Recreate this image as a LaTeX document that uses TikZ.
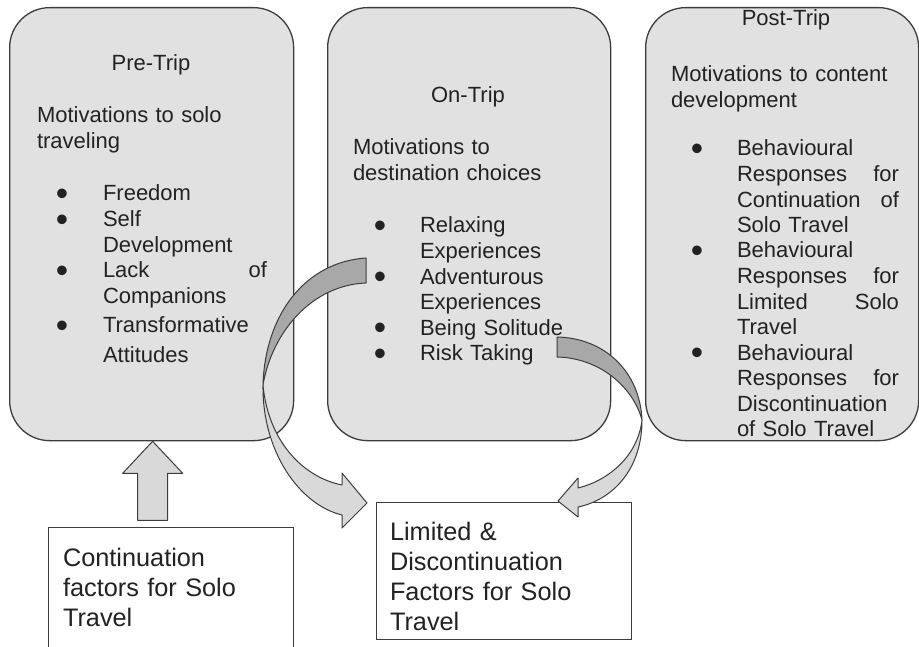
\documentclass[tikz,border=0pt]{standalone}
\usepackage{fontspec}
\setmainfont{Liberation Sans}
\definecolor{boxgray}{HTML}{E1E1E1}
\definecolor{linegray}{HTML}{3C3C3C}
\definecolor{backgray}{HTML}{A8A8A8}
\definecolor{frontgray}{HTML}{D9D9D9}
\definecolor{ink}{HTML}{222222}
% large bullet hung to the left of an item's first line
\newcommand\bul[1]{\leavevmode\llap{\smash{\raisebox{-4.5pt}{\scalebox{1.6}{\textbullet}}}\hspace{#1}}}
\begin{document}
\begin{tikzpicture}[x=1pt,y=-1pt,
  stage/.style={draw=linegray, fill=boxgray, line width=1.3pt, rounded corners=40pt,
    anchor=north west, inner sep=0pt},
  factorbox/.style={draw=linegray, fill=white, line width=1.1pt, anchor=north west, inner sep=0pt},
  txt/.style={anchor=base west, inner sep=0pt, outer sep=0pt, text=ink, align=left,
    font=\fontsize{22}{25.6}\selectfont},
  title/.style={anchor=base, inner sep=0pt, outer sep=0pt, text=ink,
    font=\fontsize{22}{25.6}\selectfont},
  bigtxt/.style={anchor=base west, inner sep=0pt, outer sep=0pt, text=ink, align=left,
    text width=240pt, font=\fontsize{25.3}{30.3}\selectfont},
  arrowline/.style={draw=linegray, line width=1pt, line join=round},
]
\useasboundingbox (0,0) rectangle (919,647);

% the three stage boxes
\node[stage, minimum width=284pt, minimum height=433pt] (pre) at (9,7) {};
\node[stage, minimum width=283pt, minimum height=433pt] (on) at (327,7) {};
\node[stage, minimum width=273pt, minimum height=433pt] (post) at (645,7) {};

% factor boxes at the bottom
\node[factorbox, minimum width=245pt, minimum height=140pt] (cont) at (48,527) {};
\node[factorbox, minimum width=255pt, minimum height=137pt] (lim) at (376,502) {};

% Pre-Trip
\node[title] (preT) at (151,71) {Pre-Trip};
\node[txt, text width=240pt] (preM) at (37,123) {Motivations to solo\\traveling};
\node[txt, text width=164pt] (preA) at (103,201)
  {\bul{34.8pt}Freedom\\\bul{34.8pt}Self\\Development\\\bul{34.8pt}Lack\hfill of\\Companions};
\node[txt, text width=164pt] (preD) at (103,333) {\bul{34.8pt}Transformative\\[4pt]Attitudes};

% On-Trip
\node[title] (onT) at (468,103) {On-Trip};
\node[txt, text width=240pt] (onM) at (353,155) {Motivations to\\destination choices};
\node[txt, text width=180pt] (onA) at (420,233)
  {\bul{33.8pt}Relaxing\\Experiences\\\bul{33.8pt}Adventurous\\Experiences\\
   \bul{33.8pt}Being Solitude\\\bul{33.8pt}Risk Taking};

% Post-Trip
\node[title] (postT) at (786,26) {Post-Trip};
\node[txt, text width=240pt] (postM) at (671,82) {Motivations to content\\development};
\node[txt, text width=162pt] (postA) at (737,156)
  {\bul{33.8pt}Behavioural\\Responses\hfill for\\Continuation\hfill of\\Solo Travel};
\node[txt, text width=162pt] (postB) at (737,258)
  {\bul{33.8pt}Behavioural\\Responses\hfill for\\Limited\hfill Solo\\Travel};
\node[txt, text width=162pt] (postC) at (737,360)
  {\bul{33.8pt}Behavioural\\Responses\hfill for\\Discontinuation\\of Solo Travel};

% factor texts
\node[bigtxt] (contT) at (63,566) {Continuation\\factors for Solo\\Travel};
\node[bigtxt] (limT) at (390,540) {Limited \&\\Discontinuation\\Factors for Solo\\Travel};

% block arrow from the continuation factors up to Pre-Trip
\draw[arrowline, fill=frontgray] ([xshift=1pt]pre.south) -- ++(30,32) -- ++(-15,0) -- ++(0,47)
  -- ++(-30,0) -- ++(0,-47) -- ++(-15,0) -- cycle;

% curved arrow from On-Trip down to the limiting factors (back face, then front face)
\draw[arrowline, fill=backgray] (366,258) .. controls (305,262) and (265,315) .. (263,385)
  .. controls (272,332) and (312,285) .. (366,283) -- cycle;
\draw[arrowline, fill=frontgray] (263,385) .. controls (262,452) and (300,505) .. (342,515)
  -- (342,528) -- (367,503) -- (342,473) -- (342,485)
  .. controls (302,477) and (268,440) .. (263,385) -- cycle;

% curved arrow from On-Trip round to the limiting factors
\draw[arrowline, fill=backgray] (557,337) .. controls (605,338) and (640,372) .. (642,420)
  .. controls (633,387) and (600,358) .. (557,357) -- cycle;
\draw[arrowline, fill=frontgray] (642,420) .. controls (642,470) and (612,500) .. (578,507)
  -- (578,517) -- (558,501) -- (578,478) -- (578,488)
  .. controls (610,480) and (638,455) .. (642,420) -- cycle;
\end{tikzpicture}
\end{document}
